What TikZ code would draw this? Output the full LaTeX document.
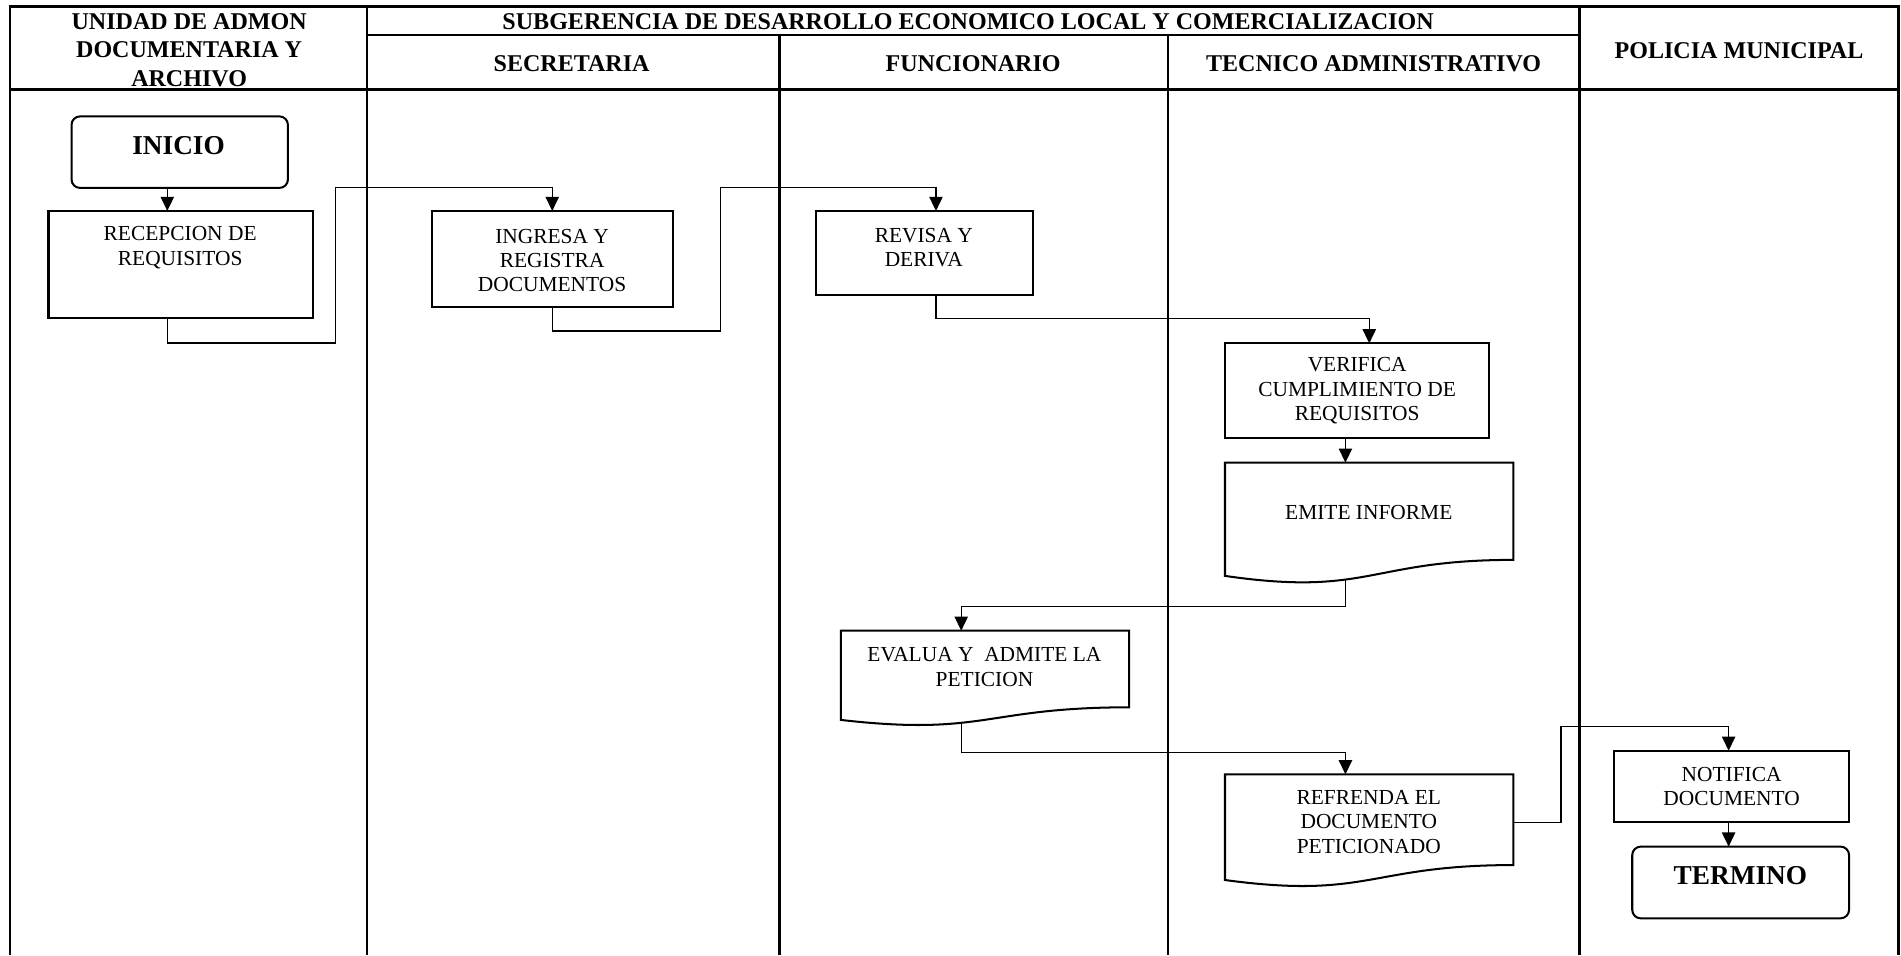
\documentclass[tikz,border=0pt]{standalone}
\usepackage{fontspec}
\setmainfont{Liberation Serif}
\usetikzlibrary{arrows.meta}
\newcommand\drawdoc[3]{%
  \draw[boxline, shift={(#1.north west)}] (0,0) -- (#2,0) -- (#2,{0.802*#3})
    .. controls ({0.5*#2},{0.802*#3}) and ({0.5*#2},{1.107*#3}) .. (0,{0.934*#3})
    coordinate[pos=0.608] (#1-out) -- cycle;}
\tikzset{
  tbl/.style={line width=1.3pt},
  boxline/.style={line width=1pt},
  procbox/.style={draw, boxline, rectangle, inner sep=0pt, outer sep=0pt, anchor=north west},
  docbox/.style={rectangle, inner sep=0pt, outer sep=0pt, anchor=north west},
  termbox/.style={procbox, rounded corners=4.2pt},
  bodytxt/.style={font=\fontsize{10.6}{12.1}\selectfont, align=center, inner sep=0pt},
  headtxt/.style={font=\fontsize{11.9}{14}\selectfont\bfseries, align=center, inner sep=0pt},
  bigtxt/.style={font=\fontsize{13.5}{16}\selectfont\bfseries, inner sep=0pt},
  conn/.style={line width=0.65pt},
  arr/.style={conn, -{Triangle[length=7pt,width=6.6pt]}},
}
\begin{document}
\begin{tikzpicture}[x=0.6pt, y=-0.6pt]
\useasboundingbox (0,0) rectangle (1568,788);
% table
\draw[tbl] (8.3,788) -- (8.3,5.5) -- (1566,5.5) -- (1566,788);
\draw[tbl] (8.3,74) -- (1566,74);
\draw[tbl] (302.7,29) -- (1303,29);
\draw[tbl] (302.7,5.5) -- (302.7,788);
\draw[tbl] (643,29) -- (643,788);
\draw[tbl] (963.3,29) -- (963.3,788);
\draw[tbl] (1303,5.5) -- (1303,788);
% headers
\node[headtxt] (h1) at (156,41.2) {UNIDAD DE ADMON\\DOCUMENTARIA Y\\ARCHIVO};
\node[headtxt] (h2) at (798.5,17.9) {SUBGERENCIA DE DESARROLLO ECONOMICO LOCAL Y COMERCIALIZACION};
\node[headtxt] (h3) at (471.5,52.6) {SECRETARIA};
\node[headtxt] (h4) at (802.7,52.6) {FUNCIONARIO};
\node[headtxt] (h5) at (1133,52.6) {TECNICO ADMINISTRATIVO};
\node[headtxt] (h6) at (1434.4,41.9) {POLICIA MUNICIPAL};
% boxes
\node[termbox, minimum width=107.1pt, minimum height=35.4pt] (inicio) at (59,96) {};
\node[bigtxt] (inicio-t) at (147.3,120.3) {INICIO};
\node[procbox, minimum width=130.8pt, minimum height=53.1pt] (recep) at (40,174) {};
\node[bodytxt] (recep-t) at (148.6,204.4) {RECEPCION DE\\REQUISITOS};
\node[procbox, minimum width=119.4pt, minimum height=47.4pt] (ingresa) at (356,174) {};
\node[bodytxt] (ingresa-t) at (455.4,214.9) {INGRESA Y\\REGISTRA\\DOCUMENTOS};
\node[procbox, minimum width=107.4pt, minimum height=41.4pt] (revisa) at (673,174) {};
\node[bodytxt] (revisa-t) at (762,204.4) {REVISA Y\\DERIVA};
\node[procbox, minimum width=130.5pt, minimum height=47pt] (verifica) at (1010.4,283.2) {};
\node[bodytxt] (verifica-t) at (1119.4,322.5) {VERIFICA\\CUMPLIMIENTO DE\\REQUISITOS};
\node[docbox, minimum width=142.7pt, minimum height=60pt] (emite) at (1010.4,381.6) {};
\drawdoc{emite}{237.8}{100}
\node[bodytxt] (emite-t) at (1129,422.7) {EMITE INFORME};
\node[docbox, minimum width=142.7pt, minimum height=47.3pt] (evalua) at (693.5,520.2) {};
\drawdoc{evalua}{237.8}{78.8}
\node[bodytxt] (evalua-t) at (812,550) {EVALUA Y~~ADMITE LA\\PETICION};
\node[docbox, minimum width=142.7pt, minimum height=56pt] (refrenda) at (1010.4,638.7) {};
\drawdoc{refrenda}{237.8}{93.3}
\node[bodytxt] (refrenda-t) at (1129,677.9) {REFRENDA EL\\DOCUMENTO\\PETICIONADO};
\node[procbox, minimum width=116.2pt, minimum height=35.5pt] (notifica) at (1331.5,619.2) {};
\node[bodytxt] (notifica-t) at (1428.3,648.75) {NOTIFICA\\DOCUMENTO};
\node[termbox, minimum width=107.3pt, minimum height=35.5pt] (termino) at (1346.3,698.3) {};
\node[bigtxt] (termino-t) at (1435.5,722.4) {TERMINO};
% connector waypoints
\coordinate (x1) at (138,0);
\coordinate (b1) at (277,283);
\coordinate (b2) at (277,154.5);
\coordinate (b3) at (594,273);
\coordinate (b4) at (594,154.5);
\coordinate (x2) at (772,0);
\coordinate (b5) at (0,262.6);
\coordinate (x3) at (1129.4,0);
\coordinate (b6) at (0,500.4);
\coordinate (b7) at (0,620.8);
\coordinate (b8) at (1287.5,678.4);
\coordinate (b9) at (1287.5,599.4);
\coordinate (x5) at (1425.8,0);
% connectors
\draw[arr] (inicio.south -| x1) -- (recep.north -| x1);
\draw[arr] (recep.south -| x1) |- (b1) -- (b2) -| (ingresa.north);
\draw[arr] (ingresa.south) |- (b3) -- (b4) -| (revisa.north -| x2);
\draw[arr] (revisa.south -| x2) |- (b5 -| x3) -- (verifica.north -| x3);
\draw[arr] (verifica.south -| emite-out) -- (emite.north -| emite-out);
\draw[arr] (emite-out) |- (b6 -| evalua-out) -- (evalua.north -| evalua-out);
\draw[arr] (evalua-out) |- (b7 -| refrenda-out) -- (refrenda.north -| refrenda-out);
\draw[arr] (b8 -| refrenda.east) -- (b8) -- (b9) -| (notifica.north -| x5);
\draw[arr] (notifica.south -| x5) -- (termino.north -| x5);
\end{tikzpicture}
\end{document}
